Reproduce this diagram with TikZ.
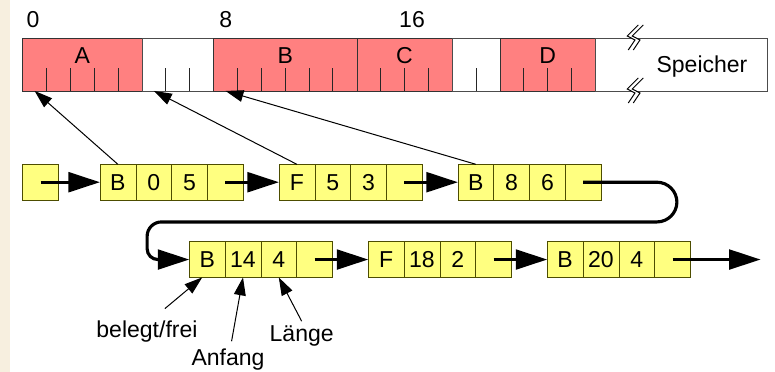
\documentclass[tikz,border=0pt]{standalone}
\usepackage{fontspec}
\setmainfont{Liberation Sans}
\usepackage{tikz}
\usetikzlibrary{positioning, arrows.meta, calc}

\definecolor{usedred}{HTML}{FF8080}
\definecolor{listyellow}{HTML}{FFFF80}
\definecolor{celledge}{HTML}{4D4D00}
\definecolor{margin}{HTML}{F7EFDF}

\begin{document}
\begin{tikzpicture}[
    font=\fontsize{18.3}{22}\selectfont,
    usedblock/.style={rectangle, draw=black!80, fill=usedred, minimum height=1.48cm, inner sep=0pt, outer sep=0pt},
    freeblock/.style={rectangle, draw=black!70, fill=white, minimum height=1.48cm, inner sep=0pt, outer sep=0pt},
    cellnode/.style={rectangle, draw=celledge, fill=listyellow, minimum width=1cm, minimum height=1cm, inner sep=0pt, outer sep=0pt},
    tick/.style={draw=black!85, line width=0.8pt},
    link/.style={line width=2.5pt, -{Triangle[length=0.88cm, width=0.55cm]}},
    ptr/.style={line width=0.8pt, -{Triangle[length=0.5cm, width=0.33cm]}},
    brk/.style={line width=0.8pt},
]
\useasboundingbox (0,0) rectangle (21.65,-10.39);
\fill[margin] (0,0) rectangle (0.28,-10.39);

% memory
\node[usedblock, minimum width=3.333cm, anchor=north west](mA) at (0.634,-1.061){};
\node[freeblock, minimum width=2cm](mF1)[right = 0cm of mA]{};
\node[usedblock, minimum width=4cm](mB)[right = 0cm of mF1]{};
\node[usedblock, minimum width=2.667cm](mC)[right = 0cm of mB]{};
\node[freeblock, minimum width=1.333cm](mF2)[right = 0cm of mC]{};
\node[usedblock, minimum width=2.667cm](mD)[right = 0cm of mF2]{};
\node[freeblock, minimum width=4.786cm](mRest)[right = 0cm of mD]{};
\foreach \u in {1,2,3,4,6,7,9,10,11,12,13,15,16,17,19,21,22,23}
    \draw[tick] ($(mA.south west)+(\u*2/3,0)$) -- ++(0,0.64);
\node(tA) at ($(mA.north)+(0,-0.48)$){A};
\node(tB) at ($(mB.north)+(0,-0.48)$){B};
\node(tC) at ($(mC.north)+(0,-0.48)$){C};
\node(tD) at ($(mD.north)+(0,-0.48)$){D};
\node(tmem) at (19.61,-1.87){Speicher};
\node(n0) at (0.92,-0.56){0};
\node(n8) at (6.31,-0.56){8};
\node(n16) at (11.51,-0.56){16};
\foreach \yy in {-1.061,-2.542}{
    \fill[white, shift={(17.654,\yy)}] (0.176,0.363) -- (-0.131,0.056) -- (0.084,-0.056) -- (-0.103,-0.335)
        -- (0.037,-0.335) -- (0.224,-0.056) -- (0.009,0.056) -- (0.316,0.363) -- cycle;
    \draw[brk, shift={(17.654,\yy)}] (0.176,0.363) -- (-0.131,0.056) -- (0.084,-0.056) -- (-0.103,-0.335);
    \draw[brk, shift={(17.794,\yy)}] (0.176,0.363) -- (-0.131,0.056) -- (0.084,-0.056) -- (-0.103,-0.335);
}

% list, first row
\node[cellnode](head) at (1.134,-5.09){};
\node[cellnode](b1a)[right = 1.159cm of head]{B};
\node[cellnode](b1b)[right = 0cm of b1a]{0};
\node[cellnode](b1c)[right = 0cm of b1b]{5};
\node[cellnode](b1d)[right = 0cm of b1c]{};
\node[cellnode](b2a)[right = 1cm of b1d]{F};
\node[cellnode](b2b)[right = 0cm of b2a]{5};
\node[cellnode](b2c)[right = 0cm of b2b]{3};
\node[cellnode](b2d)[right = 0cm of b2c]{};
\node[cellnode](b3a)[right = 1cm of b2d]{B};
\node[cellnode](b3b)[right = 0cm of b3a]{8};
\node[cellnode](b3c)[right = 0cm of b3b]{6};
\node[cellnode](b3d)[right = 0cm of b3c]{};

% list, second row
\node[cellnode](c1a)[below right = 1.16cm and 1.495cm of b1a]{B};
\node[cellnode](c1b)[right = 0cm of c1a]{14};
\node[cellnode](c1c)[right = 0cm of c1b]{4};
\node[cellnode](c1d)[right = 0cm of c1c]{};
\node[cellnode](c2a)[right = 1cm of c1d]{F};
\node[cellnode](c2b)[right = 0cm of c2a]{18};
\node[cellnode](c2c)[right = 0cm of c2b]{2};
\node[cellnode](c2d)[right = 0cm of c2c]{};
\node[cellnode](c3a)[right = 1cm of c2d]{B};
\node[cellnode](c3b)[right = 0cm of c3a]{20};
\node[cellnode](c3c)[right = 0cm of c3b]{4};
\node[cellnode](c3d)[right = 0cm of c3c]{};
\coordinate[right = 1.96cm of c3d](tail);

% links
\draw[link] (head.center) -- (b1a);
\draw[link] (b1d.center) -- (b2a);
\draw[link] (b2d.center) -- (b3a);
\coordinate(loopR1) at (18.91,-5.09);
\coordinate(loopR2) at (18.91,-6.20);
\coordinate(loopL1) at (4.11,-6.20);
\coordinate(loopL2) at (4.11,-7.25);
\draw[link, rounded corners=0.56cm] (b3d.center) -- (loopR1) -- (loopR2)
    [rounded corners=0.4cm] -- (loopL1) [rounded corners=0.3cm] -- (loopL2) -- (c1a.west);
\draw[link] (c1d.center) -- (c2a);
\draw[link] (c2d.center) -- (c3a);
\draw[link] (c3d.center) -- (tail);

% pointers into memory
\draw[ptr] (b1a.north) -- ($(mA.south west)+(1/3,0)$);
\draw[ptr] (b2a.north) -- ($(mF1.south west)+(1/3,0)$);
\draw[ptr] (b3a.north) -- ($(mB.south west)+(1/3,0)$);

% field names
\node(lbel) at (4.106,-9.265){belegt/frei};
\node(lanf) at (6.369,-10.056){Anfang};
\node(llen) at (8.427,-9.385){Länge};
\draw[ptr] ($(lbel.north)+(0.5,0.22)$) -- ($(c1a.south)+(-0.14,0)$);
\draw[ptr] ($(lanf.north)+(0.1,0.1)$) -- (c1b.south);
\draw[ptr] (llen.north) -- (c1c.south);
\end{tikzpicture}
\end{document}
